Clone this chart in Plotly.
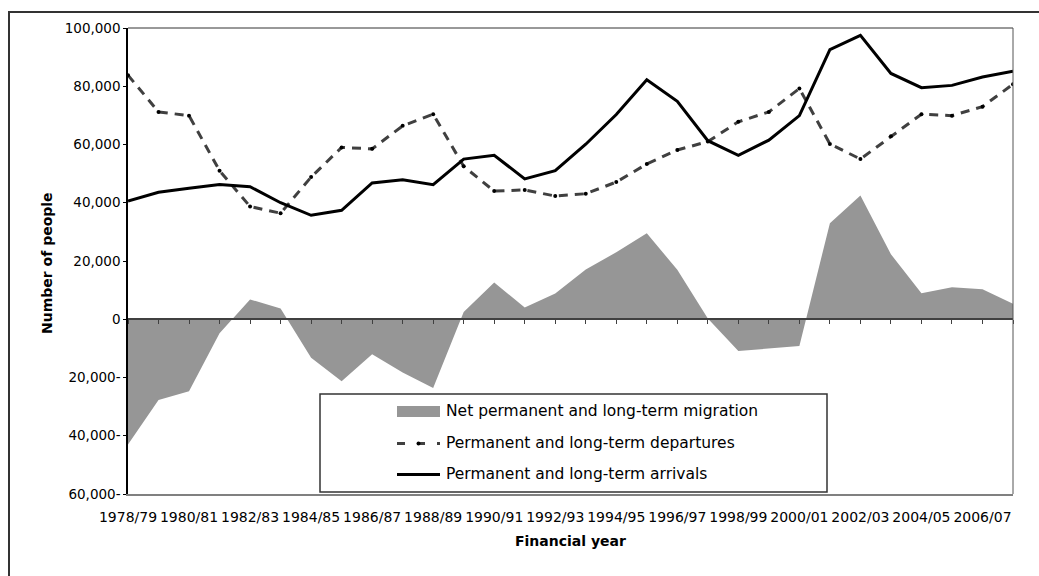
import plotly.graph_objects as go

categories = ["1978/79", "1979/80", "1980/81", "1981/82", "1982/83", "1983/84", "1984/85",
              "1985/86", "1986/87", "1987/88", "1988/89", "1989/90", "1990/91", "1991/92",
              "1992/93", "1993/94", "1994/95", "1995/96", "1996/97", "1997/98", "1998/99",
              "1999/00", "2000/01", "2001/02", "2002/03", "2003/04", "2004/05", "2005/06",
              "2006/07", "2007/08"]

arrivals = [40600, 43600, 45000, 46300, 45500, 40000, 35700, 37400, 46800, 47900,
            46200, 55000, 56300, 48200, 51000, 60100, 70300, 82200, 74800, 61300,
            56300, 61500, 69900, 92600, 97500, 84400, 79500, 80300, 83200, 85200]

departures = [83800, 71200, 69900, 51000, 38700, 36400, 48800, 59000, 58500, 66400,
              70400, 52500, 44000, 44400, 42300, 43100, 47100, 53300, 58100, 61000,
              67800, 71200, 79200, 60200, 55000, 62800, 70400, 69900, 73000, 80700]

net = [-43000, -27700, -24700, -4800, 6800, 3700, -13200, -21300, -12000, -18300,
       -23600, 2500, 12600, 4000, 8800, 17100, 23000, 29500, 17000, 300,
       -10900, -10000, -9200, 33000, 42500, 22300, 8900, 11000, 10300, 5300]

y_tickvals = [-60000, -40000, -20000, 0, 20000, 40000, 60000, 80000, 100000]
y_ticktext = ["60,000-", "40,000-", "20,000-", "0", "20,000", "40,000", "60,000", "80,000", "100,000"]
x_tickvals = categories[::2]

series_names = ["Net permanent and long-term migration",
                "Permanent and long-term departures",
                "Permanent and long-term arrivals"]

W, H = 1039, 576
ML, MR, MT, MB = 128, 26, 28, 82
PW, PH = W - ML - MR, H - MT - MB


def px_x(px):
    return (px - ML) / PW


def px_y(py):
    return (H - MB - py) / PH


FONT = "DejaVu Sans"
AREA = "#969696"
DEP = "#404040"

fig = go.Figure()
fig.add_trace(go.Scatter(x=categories, y=net, mode="lines", fill="tozeroy",
                         fillcolor=AREA, line=dict(width=0, color=AREA),
                         name=series_names[0], showlegend=False))
fig.add_trace(go.Scatter(x=categories, y=departures, mode="lines+markers",
                         line=dict(color=DEP, width=3, dash="9px,7px"),
                         marker=dict(color="black", size=4),
                         name=series_names[1], showlegend=False))
fig.add_trace(go.Scatter(x=categories, y=arrivals, mode="lines", xaxis="x2",
                         line=dict(color="black", width=3),
                         name=series_names[2], showlegend=False))

n = len(categories)
fig.update_layout(
    width=W, height=H, autosize=False,
    margin=dict(l=ML, r=MR, t=MT, b=MB),
    paper_bgcolor="white", plot_bgcolor="white",
    font=dict(family=FONT, color="black", size=13.5),
    xaxis=dict(type="category", categoryorder="array", categoryarray=categories,
               range=[0, n - 1], showgrid=False, zeroline=False,
               showline=True, linecolor="#808080", linewidth=2,
               tickmode="array", tickvals=x_tickvals, ticktext=x_tickvals,
               ticks="outside", ticklen=9, tickcolor="rgba(0,0,0,0)",
               tickfont=dict(size=14)),
    xaxis2=dict(type="category", categoryorder="array", categoryarray=categories,
                range=[0, n - 1], overlaying="x", anchor="free",
                position=60000 / 160000, showgrid=False, zeroline=False,
                showline=True, linecolor="#404040", linewidth=2,
                tickmode="array", tickvals=categories, ticks="outside",
                ticklen=4, tickcolor="#404040", showticklabels=False),
    yaxis=dict(range=[-60000, 100000], showgrid=False, zeroline=False,
               showline=True, linecolor="black", linewidth=1.5,
               tickmode="array", tickvals=y_tickvals, ticktext=y_ticktext,
               ticks="outside", ticklen=3, tickcolor="black",
               tickfont=dict(size=13.5)),
)

shapes = [
    # outer chart frame (right and bottom edges fall outside the canvas)
    dict(type="rect", xref="paper", yref="paper",
         x0=px_x(9), x1=px_x(1200), y0=px_y(700), y1=px_y(12),
         line=dict(color="#333333", width=2), fillcolor="rgba(0,0,0,0)", layer="above"),
    # plot area top and right borders
    dict(type="line", xref="paper", yref="paper", x0=0, x1=1, y0=1, y1=1,
         line=dict(color="#333333", width=1), layer="above"),
    dict(type="line", xref="paper", yref="paper", x0=1, x1=1, y0=0, y1=1,
         line=dict(color="#555555", width=1), layer="above"),
    # legend box
    dict(type="rect", xref="paper", yref="paper",
         x0=px_x(320), x1=px_x(827), y0=px_y(492), y1=px_y(394),
         line=dict(color="#333333", width=1.5), fillcolor="white", layer="above"),
    # legend swatches
    dict(type="rect", xref="paper", yref="paper",
         x0=px_x(397), x1=px_x(440), y0=px_y(417), y1=px_y(406),
         line=dict(width=0), fillcolor=AREA, layer="above"),
    dict(type="line", xref="paper", yref="paper",
         x0=px_x(397), x1=px_x(440), y0=px_y(443.5), y1=px_y(443.5),
         line=dict(color=DEP, width=3, dash="8px,12px"), layer="above"),
    dict(type="circle", xref="paper", yref="paper",
         x0=px_x(416.5), x1=px_x(420.5), y0=px_y(445.5), y1=px_y(441.5),
         line=dict(width=0), fillcolor="black", layer="above"),
    dict(type="line", xref="paper", yref="paper",
         x0=px_x(397), x1=px_x(440), y0=px_y(474.5), y1=px_y(474.5),
         line=dict(color="black", width=3), layer="above"),
]

annotations = [
    dict(text=series_names[0], x=px_x(444), y=px_y(411), xref="paper", yref="paper",
         xanchor="left", yanchor="middle", showarrow=False, font=dict(size=15.5)),
    dict(text=series_names[1], x=px_x(444), y=px_y(443), xref="paper", yref="paper",
         xanchor="left", yanchor="middle", showarrow=False, font=dict(size=15.5)),
    dict(text=series_names[2], x=px_x(444), y=px_y(474), xref="paper", yref="paper",
         xanchor="left", yanchor="middle", showarrow=False, font=dict(size=15.5)),
    dict(text="<b>Financial year</b>", x=0.5, y=px_y(541), xref="paper", yref="paper",
         xanchor="center", yanchor="middle", showarrow=False, font=dict(size=14)),
    dict(text="<b>Number of people</b>", x=px_x(47), y=px_y(263), xref="paper", yref="paper",
         xanchor="center", yanchor="middle", showarrow=False, textangle=-90,
         font=dict(size=14)),
]

fig.update_layout(shapes=shapes, annotations=annotations)
fig.write_html("out.html")
